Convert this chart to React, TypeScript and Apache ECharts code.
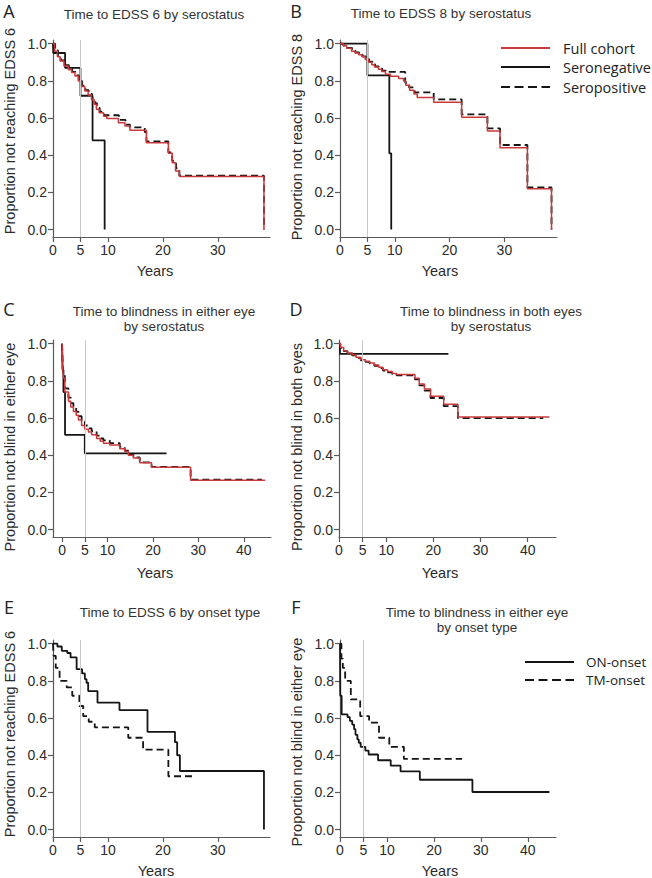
import React, { useEffect, useRef } from "react";
import * as echarts from "echarts";

// ---------- DATA ----------
const Y_TICKS = [0, 0.2, 0.4, 0.6, 0.8, 1.0];
const X_TICKS_SHORT = [0, 5, 10, 20, 30];
const X_TICKS_LONG = [0, 5, 10, 20, 30, 40];
const REF_YEAR = 5;

// Panel A: Time to EDSS 6 by serostatus  [years, proportion]
const aSeronegative = [[0, 1], [0.05, 0.95], [2.2, 0.87], [5.0, 0.72], [7.2, 0.48], [9.4, 0]];
const aSeropositive = [[0, 1], [0.4, 0.965], [0.9, 0.935], [1.4, 0.91], [2.1, 0.885], [2.9, 0.865], [3.5, 0.848], [4.1, 0.83], [4.7, 0.805], [5.3, 0.775], [5.9, 0.75], [6.5, 0.73], [7.1, 0.705], [7.6, 0.68], [8.0, 0.655], [8.5, 0.635], [9.3, 0.615], [12.0, 0.59], [13.2, 0.565], [14.0, 0.55], [16.7, 0.525], [17.0, 0.475], [21.0, 0.415], [21.7, 0.37], [22.4, 0.33], [23.0, 0.29], [38.4, 0]];
const aFull = [[0, 1], [0.3, 0.96], [0.8, 0.93], [1.3, 0.907], [2.0, 0.88], [2.8, 0.86], [3.4, 0.845], [4.0, 0.826], [4.6, 0.8], [5.2, 0.77], [5.8, 0.745], [6.4, 0.724], [7.0, 0.7], [7.5, 0.674], [7.9, 0.647], [8.4, 0.629], [9.2, 0.61], [9.8, 0.598], [11.9, 0.575], [13.1, 0.557], [14.0, 0.535], [17.0, 0.467], [21.0, 0.41], [21.7, 0.36], [22.3, 0.315], [23.0, 0.285], [38.4, 0]];

// Panel B: Time to EDSS 8 by serostatus
const bSeronegative = [[0, 1], [5.0, 0.83], [9.0, 0.41], [9.35, 0]];
const bSeropositive = [[0, 1], [0.6, 0.99], [1.3, 0.978], [2.2, 0.963], [2.8, 0.953], [3.5, 0.943], [4.1, 0.932], [4.7, 0.918], [5.3, 0.903], [5.9, 0.89], [6.4, 0.878], [7.1, 0.866], [7.7, 0.855], [8.4, 0.848], [11.9, 0.79], [12.6, 0.765], [13.6, 0.738], [17.1, 0.7], [22.2, 0.62], [26.9, 0.545], [29.2, 0.455], [34.2, 0.227], [38.6, 0]];
const bFull = [[0, 1], [0.6, 0.99], [1.2, 0.975], [2.1, 0.96], [2.75, 0.95], [3.4, 0.94], [4.0, 0.93], [4.6, 0.915], [5.2, 0.9], [5.8, 0.887], [6.3, 0.875], [7.0, 0.862], [7.6, 0.85], [8.3, 0.836], [9.2, 0.825], [10.7, 0.813], [11.6, 0.8], [12.0, 0.776], [12.7, 0.75], [13.5, 0.73], [14.1, 0.71], [17.1, 0.685], [22.2, 0.604], [26.9, 0.53], [29.2, 0.44], [34.2, 0.22], [38.6, 0]];

// Panel C: Time to blindness in either eye by serostatus
const cSeronegative = [[0, 1], [0.1, 0.86], [0.3, 0.74], [0.65, 0.51], [5.0, 0.41], [23.0, 0.41]];
const cSeropositive = [[0, 1], [0.15, 0.87], [0.3, 0.83], [0.6, 0.76], [1.4, 0.71], [1.9, 0.68], [2.5, 0.655], [3.1, 0.635], [3.6, 0.61], [4.3, 0.58], [5.0, 0.56], [5.8, 0.545], [6.5, 0.53], [7.6, 0.505], [8.4, 0.49], [9.1, 0.48], [10.5, 0.465], [12.7, 0.445], [13.8, 0.425], [14.6, 0.405], [15.7, 0.388], [17.1, 0.362], [19.7, 0.337], [28.3, 0.268], [44.0, 0.268]];
const cFull = [[0, 1], [0.15, 0.86], [0.3, 0.815], [0.6, 0.74], [1.4, 0.69], [1.9, 0.66], [2.5, 0.635], [3.1, 0.615], [3.6, 0.59], [4.3, 0.56], [5.0, 0.54], [5.8, 0.525], [6.5, 0.51], [7.6, 0.49], [8.4, 0.475], [9.1, 0.465], [10.5, 0.455], [12.7, 0.435], [13.8, 0.42], [14.6, 0.4], [15.7, 0.385], [17.1, 0.36], [19.7, 0.335], [28.3, 0.266], [44.7, 0.266]];

// Panel D: Time to blindness in both eyes by serostatus
const dSeronegative = [[0, 1], [0.2, 0.945], [23.2, 0.945]];
const dSeropositive = [[0, 1], [0.3, 0.978], [1.0, 0.96], [1.8, 0.948], [2.8, 0.937], [3.6, 0.924], [4.6, 0.911], [5.6, 0.902], [6.5, 0.893], [7.5, 0.881], [8.4, 0.869], [9.3, 0.856], [10.3, 0.846], [11.3, 0.836], [12.2, 0.83], [16.1, 0.808], [17.0, 0.776], [18.1, 0.748], [19.4, 0.708], [22.2, 0.664], [25.2, 0.6], [43.3, 0.6]];
const dFull = [[0, 1], [0.3, 0.98], [1.0, 0.962], [1.8, 0.95], [2.8, 0.94], [3.6, 0.927], [4.6, 0.914], [5.6, 0.905], [6.5, 0.896], [7.5, 0.885], [8.4, 0.873], [9.3, 0.86], [10.3, 0.85], [11.3, 0.84], [12.2, 0.835], [16.1, 0.814], [17.0, 0.783], [18.1, 0.756], [19.4, 0.717], [22.2, 0.674], [25.2, 0.606], [44.6, 0.606]];

// Panel E: Time to EDSS 6 by onset type
const eOnOnset = [[0, 1], [0.8, 0.985], [1.6, 0.962], [2.6, 0.95], [3.2, 0.926], [4.3, 0.863], [5.3, 0.84], [5.8, 0.81], [6.1, 0.79], [6.4, 0.745], [8.1, 0.683], [12.1, 0.643], [17.2, 0.526], [22.2, 0.47], [22.6, 0.4], [23.1, 0.315], [38.4, 0]];
const eTmOnset = [[0, 1], [0.1, 0.935], [0.5, 0.87], [1.2, 0.8], [2.5, 0.765], [3.5, 0.72], [4.8, 0.665], [5.5, 0.61], [6.5, 0.58], [7.6, 0.55], [13.7, 0.494], [16.4, 0.43], [21.0, 0.287], [26.0, 0.287]];

// Panel F: Time to blindness in either eye by onset type
const fOnOnset = [[0, 1], [0.05, 0.72], [0.35, 0.62], [1.6, 0.605], [2.1, 0.585], [2.6, 0.565], [3.0, 0.54], [3.3, 0.51], [3.7, 0.485], [4.0, 0.467], [4.4, 0.445], [5.4, 0.425], [6.1, 0.404], [8.1, 0.373], [10.8, 0.344], [12.9, 0.313], [17.0, 0.268], [28.2, 0.202], [44.6, 0.202]];
const fTmOnset = [[0, 1], [0.3, 0.92], [0.6, 0.87], [1.1, 0.8], [2.3, 0.7], [4.3, 0.61], [6.2, 0.575], [8.3, 0.494], [10.5, 0.445], [13.6, 0.38], [26.0, 0.38]];

const SERO_LEGEND = ["Full cohort", "Seronegative", "Seropositive"];
const ONSET_LEGEND = ["ON-onset", "TM-onset"];

// ---------- STYLE ----------
const FONT = "Arial, Liberation Sans, Helvetica, sans-serif";
const FONT2 = "Open Sans, Liberation Sans, sans-serif";
const RED = "#c9383a";
const BLACK = "#151515";
const AXIS = "#5a5a5a";
const TEXT = "#2b2b2b";
const DASH = [7, 4];

const solidBlack = (data: number[][]) => ({ data, color: BLACK, width: 1.8, dash: "solid" as any });
const dashBlack = (data: number[][]) => ({ data, color: BLACK, width: 1.8, dash: DASH as any });
const red = (data: number[][]) => ({ data, color: RED, width: 1.5, dash: "solid" as any });

const panels = [
  { letter: "A", title: ["Time to EDSS 6 by serostatus"], ylabel: "Proportion not reaching EDSS 6",
    grid: { left: 53, top: 40, width: 217, height: 197 }, xMin: 0, xMax: 39.5, xTicks: X_TICKS_SHORT,
    curves: [solidBlack(aSeronegative), dashBlack(aSeropositive), red(aFull)] },
  { letter: "B", title: ["Time to EDSS 8 by serostatus"], ylabel: "Proportion not reaching EDSS 8",
    grid: { left: 340, top: 40, width: 217, height: 197 }, xMin: 0, xMax: 39.6, xTicks: X_TICKS_SHORT,
    curves: [solidBlack(bSeronegative), dashBlack(bSeropositive), red(bFull)] },
  { letter: "C", title: ["Time to blindness in either eye", "by serostatus"], ylabel: "Proportion not blind in either eye",
    grid: { left: 53, top: 340, width: 218, height: 197 }, xMin: -2, xMax: 46, xTicks: X_TICKS_LONG,
    curves: [solidBlack(cSeronegative), dashBlack(cSeropositive), red(cFull)] },
  { letter: "D", title: ["Time to blindness in both eyes", "by serostatus"], ylabel: "Proportion not blind in both eyes",
    grid: { left: 339, top: 340, width: 217, height: 197 }, xMin: 0, xMax: 46, xTicks: X_TICKS_LONG,
    curves: [solidBlack(dSeronegative), dashBlack(dSeropositive), red(dFull)] },
  { letter: "E", title: ["Time to EDSS 6 by onset type"], ylabel: "Proportion not reaching EDSS 6",
    grid: { left: 53, top: 640, width: 217, height: 197 }, xMin: 0, xMax: 39.5, xTicks: X_TICKS_SHORT,
    curves: [solidBlack(eOnOnset), dashBlack(eTmOnset)] },
  { letter: "F", title: ["Time to blindness in either eye", "by onset type"], ylabel: "Proportion not blind in either eye",
    grid: { left: 340, top: 640, width: 216, height: 197 }, xMin: 0, xMax: 46, xTicks: X_TICKS_LONG,
    curves: [solidBlack(fOnOnset), dashBlack(fTmOnset)] },
];

// text placements (centres)
const letterPos = [[9, 11], [296, 11], [9, 309], [296, 309], [9, 607], [296, 607]];
const titlePos = [[154, 14], [441, 13], [164, 311], [491, 311], [170, 612], [477, 612]];
const ylabelPos = [[10, 131], [297, 137], [10, 447], [297, 447], [10, 734], [297, 742]];
const yearsPos = [[155, 271], [440, 271], [155, 573], [440, 573], [156, 871], [440, 871]];

function buildOption() {
  const grid: any[] = [];
  const xAxis: any[] = [];
  const yAxis: any[] = [];
  const series: any[] = [];
  const graphic: any[] = [];

  panels.forEach((p, i) => {
    grid.push({ ...p.grid, containLabel: false });
    xAxis.push({
      type: "value", gridIndex: i, min: p.xMin, max: p.xMax,
      axisLine: { show: true, onZero: false, lineStyle: { color: AXIS, width: 1.2 } },
      axisTick: { show: true, length: 5, customValues: p.xTicks, lineStyle: { color: AXIS, width: 1.2 } },
      axisLabel: { customValues: p.xTicks, margin: 6, fontSize: 14, fontFamily: FONT, color: TEXT },
      splitLine: { show: false },
    });
    yAxis.push({
      type: "value", gridIndex: i, min: -0.04, max: 1.02,
      axisLine: { show: true, onZero: false, lineStyle: { color: AXIS, width: 1.2 } },
      axisTick: { show: true, length: 5, customValues: Y_TICKS, lineStyle: { color: AXIS, width: 1.2 } },
      axisLabel: { customValues: Y_TICKS, margin: 6, fontSize: 14, fontFamily: FONT, color: TEXT,
        formatter: (v: number) => v.toFixed(1) },
      splitLine: { show: false },
    });
    p.curves.forEach((c, j) => {
      const s: any = {
        type: "line", xAxisIndex: i, yAxisIndex: i, step: "end", data: c.data,
        symbol: "none", showSymbol: false, silent: true,
        lineStyle: { color: c.color, width: c.width, type: c.dash },
        emphasis: { disabled: true },
      };
      if (j === 0) {
        s.markLine = {
          silent: true, symbol: ["none", "none"], label: { show: false },
          lineStyle: { color: "#c8c8c8", width: 1, type: "solid" },
          emphasis: { disabled: true },
          data: [{ xAxis: REF_YEAR }],
        };
      }
      series.push(s);
    });

    graphic.push({ type: "text", x: letterPos[i][0], y: letterPos[i][1],
      style: { text: p.letter, fontSize: 18, fontFamily: FONT2, fill: "#222", align: "center", verticalAlign: "middle" } });
    p.title.forEach((t, k) => {
      graphic.push({ type: "text", x: titlePos[i][0], y: titlePos[i][1] + k * 15,
        style: { text: t, fontSize: 13.5, fontFamily: FONT, fill: "#333", align: "center", verticalAlign: "middle" } });
    });
    graphic.push({ type: "text", x: ylabelPos[i][0], y: ylabelPos[i][1], rotation: Math.PI / 2,
      style: { text: p.ylabel, fontSize: 14.5, fontFamily: FONT, fill: TEXT, align: "center", verticalAlign: "middle" } });
    graphic.push({ type: "text", x: yearsPos[i][0], y: yearsPos[i][1],
      style: { text: "Years", fontSize: 14.5, fontFamily: FONT, fill: TEXT, align: "center", verticalAlign: "middle" } });
  });

  const legB = [
    { y: 48, stroke: RED, dash: null },
    { y: 67, stroke: BLACK, dash: null },
    { y: 87, stroke: BLACK, dash: [9, 4.5] },
  ];
  legB.forEach((l, k) => {
    graphic.push({ type: "line", shape: { x1: 501, y1: l.y, x2: 550, y2: l.y },
      style: { stroke: l.stroke, lineWidth: 2, lineDash: l.dash } });
    graphic.push({ type: "text", x: 563, y: l.y,
      style: { text: SERO_LEGEND[k], fontSize: 14.5, fontFamily: FONT2, fill: "#222", align: "left", verticalAlign: "middle" } });
  });
  const legF = [
    { y: 662, dash: null },
    { y: 680, dash: [9, 4.5] },
  ];
  legF.forEach((l, k) => {
    graphic.push({ type: "line", shape: { x1: 525, y1: l.y, x2: 574, y2: l.y },
      style: { stroke: BLACK, lineWidth: 2, lineDash: l.dash } });
    graphic.push({ type: "text", x: 586, y: l.y,
      style: { text: ONSET_LEGEND[k], fontSize: 13.5, fontFamily: FONT2, fill: "#222", align: "left", verticalAlign: "middle" } });
  });

  return { animation: false, backgroundColor: "#ffffff", grid, xAxis, yAxis, series, graphic };
}

export default function App() {
  const ref = useRef<HTMLDivElement>(null);
  useEffect(() => {
    if (!ref.current) return;
    const chart = echarts.init(ref.current, null, { renderer: "svg" });
    chart.setOption(buildOption() as any);
    return () => chart.dispose();
  }, []);
  return (
    <div
      ref={ref}
      style={{ position: "absolute", left: 0, top: 0, width: 652, height: 878, background: "#fff" }}
    />
  );
}
